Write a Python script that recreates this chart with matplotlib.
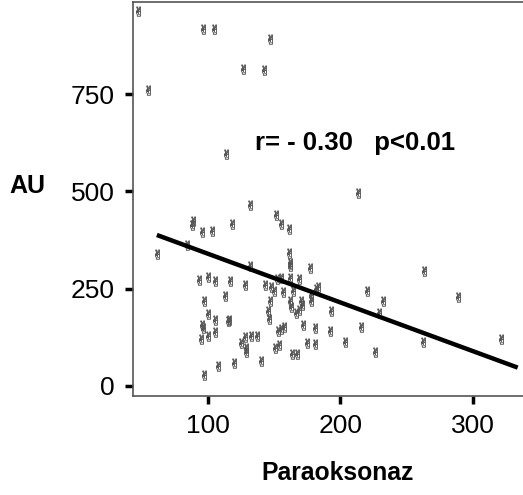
import matplotlib
matplotlib.use("Agg")
import matplotlib.pyplot as plt

plt.rcParams['font.family'] = ['Liberation Sans', 'DejaVu Sans']

paraoksonaz = [46.8, 95.9, 104.2, 146.9, 126.1, 142.6, 55.0, 113.8, 131.8, 213.2,
               88.9, 87.7, 95.7, 102.7, 117.8, 83.9, 61.3, 93.4, 100.2, 105.5,
               116.6, 112.8, 97.0, 100.2, 105.3, 115.3, 115.8, 95.2, 95.9, 94.4,
               100.2, 105.5, 107.8, 97.0, 151.7, 155.4, 161.2, 161.2, 162.2, 162.2,
               177.3, 131.6, 127.9, 143.4, 147.4, 149.7, 152.4, 155.0, 156.7, 162.2,
               164.5, 168.7, 178.0, 181.8, 183.1, 147.1, 161.7, 162.9, 170.5, 171.0,
               177.6, 145.4, 166.3, 168.7, 145.9, 152.9, 155.4, 157.5, 171.8, 181.0,
               127.9, 125.3, 132.8, 137.1, 128.6, 129.1, 150.9, 153.5, 174.5, 181.0,
               163.5, 167.2, 119.8, 139.9, 263.4, 220.2, 232.0, 229.0, 193.1, 191.9,
               215.2, 203.2, 225.8, 288.5, 262.1, 321.1]
au = [965, 917, 917, 891, 814, 812, 760, 596, 465, 495,
      425, 414, 395, 397, 417, 363, 339, 273, 279, 270,
      270, 232, 217, 184, 170, 167, 169, 157, 148, 120,
      129, 138, 50, 27, 440, 417, 404, 341, 316, 307,
      303, 309, 259, 260, 255, 245, 275, 277, 241, 277,
      243, 275, 234, 249, 255, 219, 217, 204, 217, 208,
      217, 193, 187, 194, 171, 140, 146, 151, 157, 148,
      125, 111, 129, 129, 97, 88, 97, 105, 111, 108,
      82, 82, 60, 63, 296, 245, 217, 187, 193, 141,
      152, 114, 86, 228, 112, 120]

fit_x = [61.4, 333.9]
fit_y = [388, 47]

x_ticks = [100, 200, 300]
y_ticks = [0, 250, 500, 750]

fig = plt.figure(figsize=(5.23, 4.95), dpi=100)
ax = fig.add_axes([133/523, 1 - 396/495, 1 - 133/523, (396 - 2)/495])

ax.plot(paraoksonaz, au, linestyle='none', marker='$\u270C$', markersize=7,
        color='#555555', markeredgewidth=0.3)
ax.plot(fit_x, fit_y, color='black', linewidth=3.2, solid_capstyle='butt')

ax.set_xlim(43.4, 337.9)
ax.set_ylim(-26, 987)
ax.set_xticks(x_ticks)
ax.set_yticks(y_ticks)
ax.set_xticklabels([str(v) for v in x_ticks])
ax.set_yticklabels([str(v) for v in y_ticks])
ax.tick_params(axis='both', direction='out', length=6, width=2.5, color='black',
               labelsize=19, pad=7)
for side in ['left', 'bottom', 'top']:
    ax.spines[side].set_color('#555555')
    ax.spines[side].set_linewidth(1.2)
ax.spines['right'].set_visible(False)

ax.text(135.6, 625, 'r= - 0.30   p<0.01', fontsize=18.5, fontweight='bold',
        ha='left', va='center')

fig.text(27/523, 1 - 186/495, 'AU', fontsize=18, fontweight='bold',
         ha='center', va='center')
fig.text(338/523, 1 - 473/495, 'Paraoksonaz', fontsize=17.8, fontweight='bold',
         ha='center', va='center')

fig.savefig('out.png', dpi=100)
